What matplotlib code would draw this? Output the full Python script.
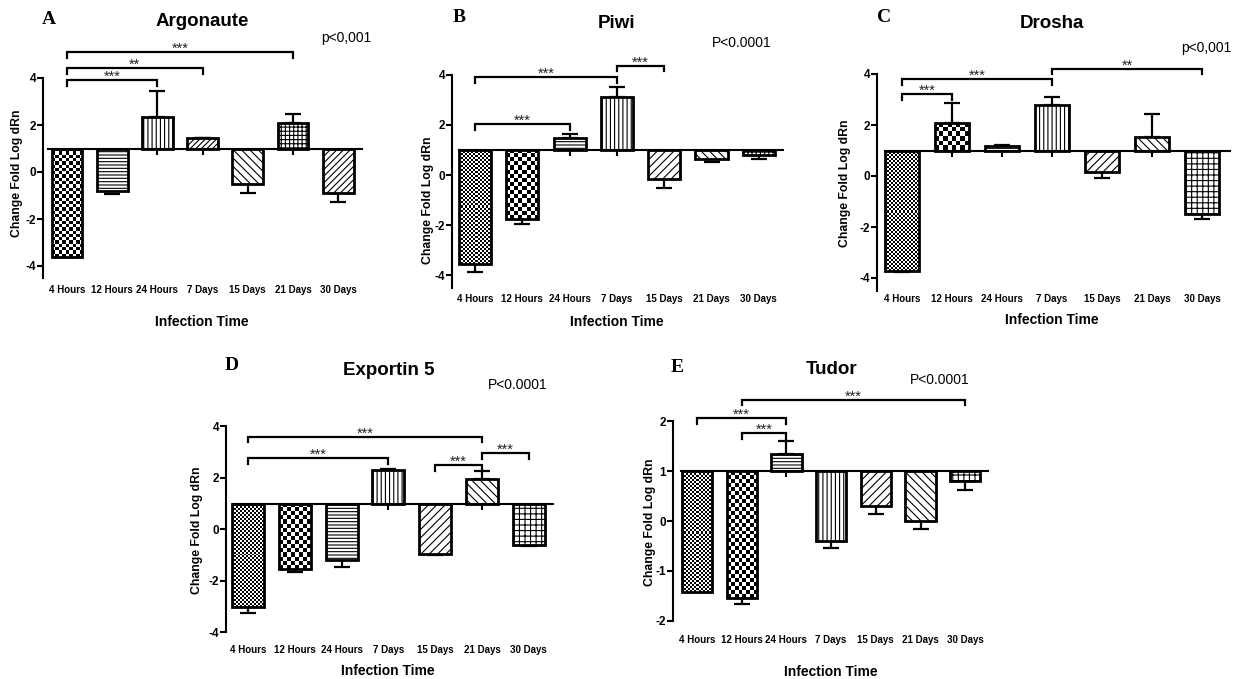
import numpy as np
import matplotlib
matplotlib.use("Agg")
import matplotlib.pyplot as plt

plt.rcParams['font.family'] = ['Liberation Sans', 'DejaVu Sans']
plt.rcParams['axes.unicode_minus'] = False
plt.rcParams['hatch.linewidth'] = 0.8

W, H = 1247, 679

categories = ['4 Hours', '12 Hours', '24 Hours', '7 Days', '15 Days', '21 Days', '30 Days']

# mean change (log dRn, baseline at 1) and one-sided error bar length
argonaute_mean = [-3.60, -0.80, 2.35, 1.45, -0.52, 2.10, -0.88]
argonaute_err = [0.02, 0.13, 1.10, 0.00, 0.36, 0.38, 0.38]
piwi_mean = [-3.56, -1.76, 1.47, 3.10, -0.16, 0.62, 0.80]
piwi_err = [0.30, 0.19, 0.17, 0.40, 0.34, 0.09, 0.18]
drosha_mean = [-3.73, 2.09, 1.17, 2.77, 0.17, 1.51, -1.49]
drosha_err = [0.05, 0.76, 0.03, 0.33, 0.26, 0.91, 0.20]
exportin_mean = [-3.00, -1.55, -1.19, 2.32, -0.96, 1.97, -0.61]
exportin_err = [0.26, 0.12, 0.26, 0.03, 0.04, 0.29, 0.02]
tudor_mean = [-1.42, -1.55, 1.34, -0.40, 0.31, 0.00, 0.80]
tudor_err = [0.00, 0.11, 0.27, 0.15, 0.16, 0.17, 0.18]

# significance brackets: (from, to, height, label)
argonaute_sig = [(0, 2, 3.91, '***'), (0, 3, 4.41, '**'), (0, 5, 5.09, '***')]
piwi_sig = [(0, 2, 2.02, '***'), (0, 3, 3.90, '***'), (3, 4, 4.36, '***')]
drosha_sig = [(0, 1, 3.21, '***'), (0, 3, 3.79, '***'), (3, 6, 4.20, '**')]
exportin_sig = [(0, 5, 3.60, '***'), (0, 3, 2.75, '***'), (4, 5, 2.49, '***'), (5, 6, 2.95, '***')]
tudor_sig = [(0, 2, 2.06, '***'), (1, 2, 1.76, '***'), (1, 6, 2.43, '***')]

big_ticks = [-4, -2, 0, 2, 4]
big_labels = ['-4', '-2', '0', '2', '4']
small_ticks = [-2, -1, 0, 1, 2]
small_labels = ['-2', '-1', '0', '1', '2']

# pattern per bar; 'C' = coarse checker, 'c' = fine checker
hatch_a = ['C', '-----', '||||', '//////', '\\\\\\\\', '++++', '/////']
hatch_b = ['c', 'C', '-----', '||||', '////', '\\\\\\\\', '++++']
hatch_c = ['c', 'C', '-----', '||||', '////', '\\\\\\\\', '+++']

fig = plt.figure(figsize=(W / 100, H / 100), dpi=100)


def checker(ax, bar, cell):
    x0, y0 = bar.get_x(), bar.get_y()
    x1, y1 = x0 + bar.get_width(), y0 + bar.get_height()
    (p0x, p0y), (p1x, p1y) = ax.transData.transform([(x0, y0), (x1, y1)])
    ncol = max(1, int(round(abs(p1x - p0x) / cell)))
    nrow = max(1, int(round(abs(p1y - p0y) / cell)))
    tiles = np.indices((nrow, ncol)).sum(axis=0) % 2
    im = ax.imshow(tiles, cmap='gray_r', vmin=0, vmax=1, interpolation='nearest',
                   extent=(x0, x1, min(y0, y1), max(y0, y1)), aspect='auto', zorder=1.9)
    im.set_clip_path(bar)


def panel(lay, letter, title, pval, mean, err, sig, hatches, ticks, ticklabels):
    mean = np.asarray(mean)
    err = np.asarray(err)
    bot = lay['y0'] - lay['ybot'] * lay['ppu']
    ax = fig.add_axes([lay['spine'] / W, 1 - bot / H,
                       (lay['end'] - lay['spine']) / W, (bot - lay['top']) / H])
    ax.set_facecolor('none')
    x = np.arange(len(categories))
    xl = (lay['spine'] - lay['c0']) / lay['dx']
    xr = (lay['end'] - lay['c0']) / lay['dx']
    ax.set_xlim(xl, xr)
    ax.set_ylim(lay['ybot'], (lay['y0'] - lay['top']) / lay['ppu'])

    bars = ax.bar(x, mean - 1, bottom=1, width=0.68, color='white',
                  edgecolor='black', linewidth=2, zorder=2)
    for b, h in zip(bars, hatches):
        if h == 'C':
            b.set_facecolor('none')
            checker(ax, b, lay['coarse'])
        elif h == 'c':
            b.set_facecolor('none')
            checker(ax, b, 2.0)
        else:
            b.set_hatch(h)
    up = mean >= 1
    ax.errorbar(x, mean, yerr=[np.where(up, 0, err), np.where(up, err, 0)], fmt='none',
                ecolor='black', elinewidth=1.6, capsize=6, capthick=1.6, zorder=1.8)

    leg = 5.5 / lay['ppu']
    for i, j, yb, lab in sig:
        ax.plot([i, i, j, j], [yb - leg, yb, yb, yb - leg], color='black', lw=1.6,
                clip_on=False, solid_joinstyle='miter')
        ax.annotate(lab, ((i + j) / 2, yb), xytext=(0, -0.5), textcoords='offset points',
                    ha='center', va='baseline', fontsize=10.5, color='#222222')

    for s in ['top', 'right']:
        ax.spines[s].set_visible(False)
    ax.spines['left'].set_linewidth(1.5)
    ax.spines['left'].set_bounds(lay['ybot'], ticks[-1])
    ax.spines['bottom'].set_position(('data', 1))
    ax.spines['bottom'].set_linewidth(1.5)
    ax.spines['bottom'].set_bounds((lay['start'] - lay['c0']) / lay['dx'], xr)
    ax.set_xticks(x)
    ax.tick_params(axis='x', direction='out', length=4, width=1.5, labelbottom=False)
    ax.set_yticks(ticks)
    ax.set_yticklabels(ticklabels, fontsize=8.5, fontweight='bold')
    ax.tick_params(axis='y', length=4, width=1.5, pad=1)

    sec = ax.secondary_xaxis('bottom')
    sec.set_xticks(x)
    sec.set_xticklabels(categories, fontsize=7, fontweight='bold')
    sec.tick_params(length=0, pad=lay['pad'])
    for s in sec.spines.values():
        s.set_visible(False)

    fig.text(lay['letter'][0] / W, 1 - lay['letter'][1] / H, letter, family='Liberation Serif',
             fontweight='bold', fontsize=14, ha='center', va='center')
    fig.text(lay['title'][0] / W, 1 - lay['title'][1] / H, title, fontweight='bold',
             fontsize=13.5, ha='center', va='center')
    fig.text(lay['p'][0] / W, 1 - lay['p'][1] / H, pval, fontsize=10, ha='center', va='center')
    fig.text(lay['xlab'][0] / W, 1 - lay['xlab'][1] / H, 'Infection Time', fontweight='bold',
             fontsize=10, ha='center', va='center')
    fig.text(lay['ylab'][0] / W, 1 - lay['ylab'][1] / H, 'Change Fold Log dRn', fontweight='bold',
             fontsize=8.8, ha='center', va='center', rotation=90)


lay_a = dict(spine=43, start=48, c0=67, dx=45.2, end=362, y0=172, ppu=23.5, ybot=-4.5, top=10,
             coarse=3.3, pad=5.5, letter=(49, 19), title=(202, 21), p=(346, 38),
             xlab=(202, 322), ylab=(17, 173))
lay_b = dict(spine=452, start=459, c0=475, dx=47.3, end=783, y0=175, ppu=25.07, ybot=-4.5, top=10,
             coarse=4.0, pad=4.3, letter=(459, 18), title=(617, 23), p=(742, 43),
             xlab=(617, 322), ylab=(428, 200))
lay_c = dict(spine=877, start=885, c0=902, dx=50, end=1230, y0=176, ppu=25.5, ybot=-4.5, top=10,
             coarse=4.5, pad=2.2, letter=(884, 18), title=(1052, 24), p=(1206, 48),
             xlab=(1052, 320), ylab=(845, 183))
lay_d = dict(spine=226, start=233, c0=248, dx=46.8, end=553, y0=529.3, ppu=25.75, ybot=-4, top=360,
             coarse=4.0, pad=9.2, letter=(232, 366), title=(389, 371), p=(518, 385),
             xlab=(388, 671), ylab=(197, 530))
lay_e = dict(spine=673, start=681, c0=697, dx=44.7, end=988, y0=521, ppu=49.8, ybot=-2, top=360,
             coarse=4.0, pad=10.6, letter=(677, 367), title=(832, 370), p=(940, 380),
             xlab=(831, 672), ylab=(650, 522))

panel(lay_a, 'A', 'Argonaute', 'p<0,001', argonaute_mean, argonaute_err, argonaute_sig,
      hatch_a, big_ticks, big_labels)
panel(lay_b, 'B', 'Piwi', 'P<0.0001', piwi_mean, piwi_err, piwi_sig,
      hatch_b, big_ticks, big_labels)
panel(lay_c, 'C', 'Drosha', 'p<0,001', drosha_mean, drosha_err, drosha_sig,
      hatch_c, big_ticks, big_labels)
panel(lay_d, 'D', 'Exportin 5', 'P<0.0001', exportin_mean, exportin_err, exportin_sig,
      hatch_c, big_ticks, big_labels)
panel(lay_e, 'E', 'Tudor', 'P<0.0001', tudor_mean, tudor_err, tudor_sig,
      hatch_c, small_ticks, small_labels)

fig.savefig('out.png', dpi=100)
